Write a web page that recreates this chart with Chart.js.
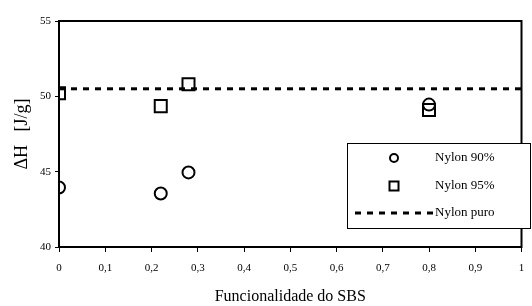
<!DOCTYPE html>
<html>
<head>
<meta charset="utf-8">
<script src="https://cdn.jsdelivr.net/npm/chart.js@4.4.0/dist/chart.umd.min.js"></script>
<style>
  html, body { margin: 0; padding: 0; background: #fff; }
  #wrap { width: 532px; height: 306px; }
</style>
</head>
<body>
<div id="wrap"><canvas id="Chart" width="532" height="306"></canvas></div>
<script>
// functionality of SBS (x) and enthalpy (y)
var func90 = [0, 0.22, 0.28, 0.8];
var dh90 = [43.95, 43.55, 44.95, 49.45];
var func95 = [0, 0.22, 0.28, 0.8];
var dh95 = [50.2, 49.35, 50.8, 49.1];
var pureX = [0, 1];
var pureY = [50.5, 50.5];
var xTicks = [0, 0.1, 0.2, 0.3, 0.4, 0.5, 0.6, 0.7, 0.8, 0.9, 1];
var yTicks = [40, 45, 50, 55];

function pts(xs, ys) {
  return xs.map(function (x, i) { return { x: x, y: ys[i] }; });
}

var serif = "'Liberation Serif', 'Times New Roman', serif";

// frame around the plot + legend box inside it
var framePlugin = {
  id: 'frame',
  afterDraw: function (chart) {
    var c = chart.ctx, a = chart.chartArea;
    c.save();
    c.strokeStyle = '#000';
    c.lineWidth = 2;
    c.strokeRect(a.left, a.top, a.right - a.left, a.bottom - a.top);

    // legend
    var lx = 347, ly = 143, lw = 183, lh = 85;
    c.fillStyle = '#fff';
    c.fillRect(lx, ly, lw, lh);
    c.lineWidth = 1;
    c.strokeRect(lx + 0.5, ly + 0.5, lw, lh);
    c.font = '13px ' + serif;
    c.textBaseline = 'middle';
    c.fillStyle = '#000';
    var ds = chart.data.datasets;
    var rows = [158, 186, 213];
    c.lineWidth = 2;
    // circle
    c.beginPath(); c.arc(394, rows[0], 4, 0, Math.PI * 2); c.stroke();
    // square
    c.strokeRect(389.5, rows[1] - 4.5, 9, 9);
    // dashed line
    c.save();
    c.lineWidth = 3;
    c.setLineDash([6, 6]);
    c.beginPath(); c.moveTo(355, rows[2]); c.lineTo(434, rows[2]); c.stroke();
    c.restore();
    for (var i = 0; i < ds.length; i++) {
      c.fillText(ds[i].label, 435, rows[i]);
    }
    c.restore();
  }
};

var ctx = document.getElementById('Chart');
var myChart = new Chart(ctx, {
  type: 'scatter',
  data: {
    datasets: [
      {
        label: 'Nylon 90%',
        data: pts(func90, dh90),
        pointStyle: 'circle',
        pointRadius: 6,
        borderColor: '#000',
        backgroundColor: 'rgba(0,0,0,0)',
        pointBorderWidth: 2,
        showLine: false
      },
      {
        label: 'Nylon 95%',
        data: pts(func95, dh95),
        pointStyle: 'rect',
        pointRadius: 8.5,
        borderColor: '#000',
        backgroundColor: 'rgba(0,0,0,0)',
        pointBorderWidth: 2,
        showLine: false
      },
      {
        label: 'Nylon puro',
        data: pts(pureX, pureY),
        showLine: true,
        borderColor: '#000',
        borderWidth: 3,
        borderDash: [6, 6],
        pointRadius: 0,
        fill: false
      }
    ]
  },
  options: {
    responsive: false,
    animation: false,
    layout: { padding: { top: 21, right: 0, left: 0, bottom: 0 } },
    plugins: {
      legend: { display: false },
      tooltip: { enabled: false }
    },
    scales: {
      x: {
        type: 'linear',
        min: 0,
        max: 1,
        afterBuildTicks: function (s) { s.ticks = xTicks.map(function (v) { return { value: v }; }); },
        afterFit: function (s) { s.height = 59; },
        grid: { drawOnChartArea: false, drawTicks: true, tickLength: 5, color: '#000', lineWidth: 1 },
        border: { display: false },
        ticks: {
          color: '#000',
          font: { family: serif, size: 11, lineHeight: 1 },
          // no side padding so the plot reaches the right edge;
          // an empty first line drops the label below the tick mark
          padding: 0,
          maxRotation: 0,
          callback: function (v) { return ['', String(v).replace('.', ',')]; }
        },
        title: {
          display: true,
          text: 'Funcionalidade do SBS',
          color: '#000',
          font: { family: serif, size: 16 },
          padding: { top: 8, bottom: 0 }
        }
      },
      y: {
        type: 'linear',
        min: 40,
        max: 55,
        afterBuildTicks: function (s) { s.ticks = yTicks.map(function (v) { return { value: v }; }); },
        afterFit: function (s) { s.width = 59; },
        grid: { drawOnChartArea: false, drawTicks: true, tickLength: 4, color: '#000', lineWidth: 1 },
        border: { display: false },
        ticks: {
          color: '#000',
          font: { family: serif, size: 11 },
          padding: 4
        },
        title: {
          display: true,
          text: '\u0394H   [J/g]',
          color: '#000',
          font: { family: serif, size: 18 },
          padding: { top: 11, bottom: 6 }
        }
      }
    }
  },
  plugins: [framePlugin]
});
</script>
</body>
</html>
